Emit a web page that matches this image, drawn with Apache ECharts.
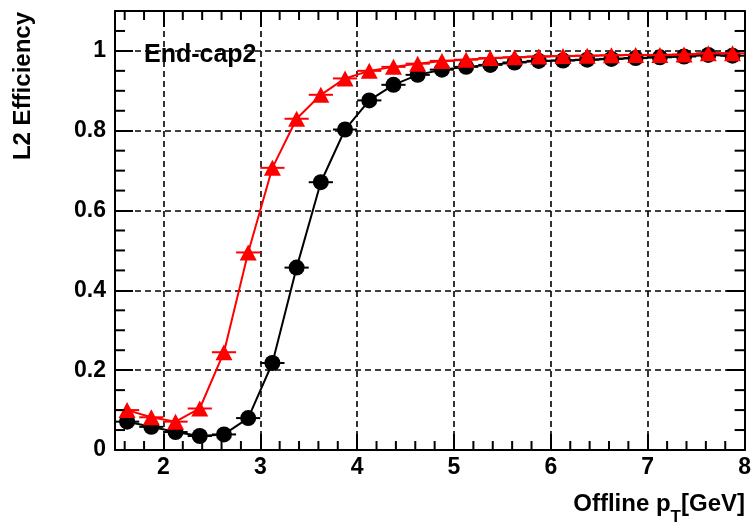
<!DOCTYPE html>
<html><head><meta charset="utf-8">
<script src="https://cdn.jsdelivr.net/npm/echarts@6/dist/echarts.min.js"></script>
<style>html,body{margin:0;padding:0;background:#fff}#c{width:754px;height:529px}</style>
</head><body><div id="c"></div>
<script>
// Bin centres (GeV) and efficiencies
const ptBins = [1.625, 1.875, 2.125, 2.375, 2.625, 2.875, 3.125, 3.375, 3.625, 3.875,
  4.125, 4.375, 4.625, 4.875, 5.125, 5.375, 5.625, 5.875, 6.125, 6.375,
  6.625, 6.875, 7.125, 7.375, 7.625, 7.875];
const effBlack = [0.071, 0.058, 0.045, 0.035, 0.039, 0.080, 0.218, 0.457, 0.671, 0.803,
  0.876, 0.915, 0.940, 0.953, 0.960, 0.965, 0.971, 0.975, 0.976, 0.978,
  0.980, 0.982, 0.984, 0.986, 0.990, 0.988];
const effRed = [0.100, 0.082, 0.071, 0.104, 0.245, 0.495, 0.707, 0.830, 0.890, 0.931,
  0.950, 0.960, 0.968, 0.975, 0.978, 0.982, 0.984, 0.986, 0.987, 0.988,
  0.989, 0.990, 0.990, 0.991, 0.994, 0.994];
const binHalfWidth = 0.125;
const xMin = 1.5, xMax = 8, yMin = 0, yMax = 1.1;
const xMinorTicks = [1.6, 1.8, 2.2, 2.4, 2.6, 2.8, 3.2, 3.4, 3.6, 3.8, 4.2, 4.4, 4.6, 4.8,
  5.2, 5.4, 5.6, 5.8, 6.2, 6.4, 6.6, 6.8, 7.2, 7.4, 7.6, 7.8];
const yMinorTicks = [0.05, 0.1, 0.15, 0.25, 0.3, 0.35, 0.45, 0.5, 0.55, 0.65, 0.7, 0.75,
  0.85, 0.9, 0.95, 1.05];
const labelText = 'End-cap2';
const xTitle = ['Offline p', 'T', '[GeV]'];
const yTitle = 'L2 Efficiency';

const FF = '"Liberation Sans", Arial, Helvetica, sans-serif';
const chart = echarts.init(document.getElementById('c'), null, {renderer: 'canvas'});

function pairs(xs, ys) { return xs.map((x, i) => [x, ys[i]]); }

function errBar(color) {
  return function (params, api) {
    const x = api.value(0), y = api.value(1);
    const a = api.coord([x - binHalfWidth, y]);
    const b = api.coord([x + binHalfWidth, y]);
    return {type: 'line', shape: {x1: a[0], y1: a[1], x2: b[0], y2: b[1]},
      style: {stroke: color, lineWidth: 2}};
  };
}
function xMinorRender(params, api) {
  const v = api.value(0);
  const b = api.coord([v, yMin]);
  const t = api.coord([v, yMax]);
  return {type: 'group', children: [
    {type: 'line', shape: {x1: b[0], y1: b[1], x2: b[0], y2: b[1] - 9}, style: {stroke: '#000', lineWidth: 2}},
    {type: 'line', shape: {x1: t[0], y1: t[1], x2: t[0], y2: t[1] + 9}, style: {stroke: '#000', lineWidth: 2}}
  ]};
}
function yMinorRender(params, api) {
  const v = api.value(1);
  const l = api.coord([xMin, v]);
  const r = api.coord([xMax, v]);
  return {type: 'group', children: [
    {type: 'line', shape: {x1: l[0], y1: l[1], x2: l[0] + 10, y2: l[1]}, style: {stroke: '#000', lineWidth: 2}},
    {type: 'line', shape: {x1: r[0], y1: r[1], x2: r[0] - 10, y2: r[1]}, style: {stroke: '#000', lineWidth: 2}}
  ]};
}

const axisLine = {show: true, onZero: false, lineStyle: {color: '#000', width: 2}};
const tickStyle = {color: '#000', width: 2};
const labelStyle = {color: '#000', fontSize: 23, fontWeight: 'bold', fontFamily: FF};

chart.setOption({
  animation: false,
  backgroundColor: '#fff',
  grid: {left: 115, right: 8, top: 11, bottom: 79, containLabel: false},
  xAxis: [
    {type: 'value', position: 'bottom', min: xMin, max: xMax,
      axisLine: axisLine,
      axisTick: {show: true, inside: true, length: 16, lineStyle: tickStyle},
      axisLabel: {show: true, margin: 6, showMinLabel: false, showMaxLabel: true,
        formatter: v => (Number.isInteger(v) ? String(v) : ''), ...labelStyle},
      splitLine: {show: true, lineStyle: {color: '#000', width: 1.6, type: [6, 4]}}},
    {type: 'value', position: 'top', min: xMin, max: xMax,
      axisLine: axisLine,
      axisTick: {show: true, inside: true, length: 16, lineStyle: tickStyle},
      axisLabel: {show: false}, splitLine: {show: false}}
  ],
  yAxis: [
    {type: 'value', position: 'left', min: yMin, max: yMax, interval: 0.2,
      axisLine: axisLine,
      axisTick: {show: true, inside: true, length: 18, lineStyle: tickStyle},
      axisLabel: {show: true, margin: 9, showMaxLabel: false, ...labelStyle},
      splitLine: {show: true, lineStyle: {color: '#000', width: 1.6, type: [6, 4]}}},
    {type: 'value', position: 'right', min: yMin, max: yMax, interval: 0.2,
      axisLine: axisLine,
      axisTick: {show: true, inside: true, length: 18, lineStyle: tickStyle},
      axisLabel: {show: false}, splitLine: {show: false}}
  ],
  series: [
    {type: 'custom', silent: true, z: 5, data: xMinorTicks.map(v => [v, yMin]), renderItem: xMinorRender},
    {type: 'custom', silent: true, z: 5, data: yMinorTicks.map(v => [xMin, v]), renderItem: yMinorRender},
    {type: 'line', name: 'black', data: pairs(ptBins, effBlack), z: 3,
      symbol: 'circle', symbolSize: 16, showSymbol: true,
      itemStyle: {color: '#000'}, lineStyle: {color: '#000', width: 2}},
    {type: 'custom', silent: true, z: 3, data: pairs(ptBins, effBlack), renderItem: errBar('#000')},
    {type: 'line', name: 'red', data: pairs(ptBins, effRed), z: 4,
      symbol: 'triangle', symbolSize: [17, 16], showSymbol: true,
      itemStyle: {color: '#ff0000'}, lineStyle: {color: '#ff0000', width: 2}},
    {type: 'custom', silent: true, z: 4, data: pairs(ptBins, effRed), renderItem: errBar('#ff0000')}
  ],
  graphic: [
    {type: 'text', x: 144, y: 55, z: 10,
      style: {text: labelText, font: 'bold 25px ' + FF, fill: '#000',
        align: 'left', verticalAlign: 'middle', textAlign: 'left', textVerticalAlign: 'middle'}},
    {type: 'text', x: 23, y: 12, rotation: Math.PI / 2, z: 10,
      style: {text: yTitle, font: 'bold 24px ' + FF, fill: '#000',
        align: 'right', verticalAlign: 'middle', textAlign: 'right', textVerticalAlign: 'middle'}},
    {type: 'text', x: 745, y: 504, z: 10,
      style: {text: '{a|' + xTitle[0] + '}{s|' + xTitle[1] + '}{a|' + xTitle[2] + '}',
        align: 'right', verticalAlign: 'middle', textAlign: 'right', textVerticalAlign: 'middle',
        rich: {
          a: {font: 'bold 24px ' + FF, fill: '#000', color: '#000'},
          s: {font: 'bold 17px ' + FF, fill: '#000', color: '#000', padding: [26, 0, 0, 0]}
        }}}
  ]
});
</script></body></html>
